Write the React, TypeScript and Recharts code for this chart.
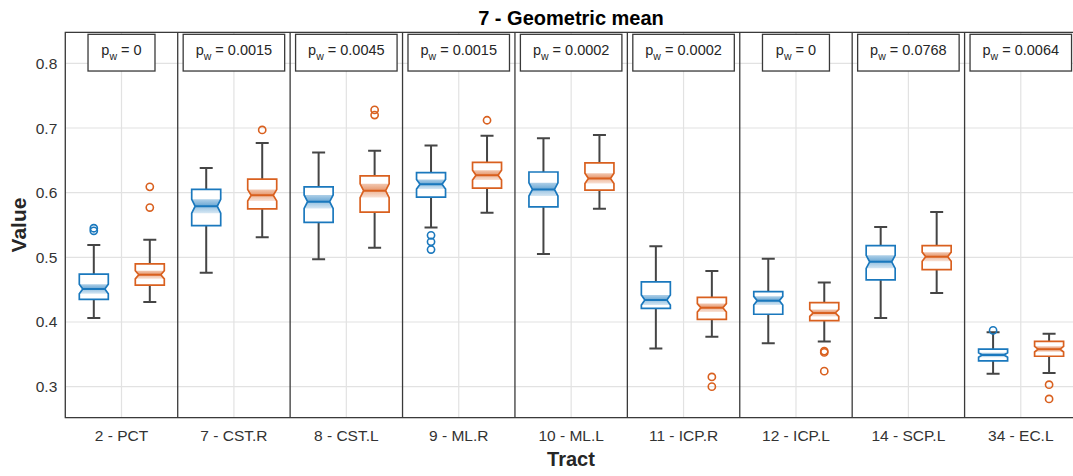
import React from "react";
import {
  ComposedChart,
  Bar,
  XAxis,
  YAxis,
  CartesianGrid,
  ReferenceLine,
  ReferenceArea,
  ReferenceDot,
} from "recharts";

const FONT = '"Liberation Sans", Arial, Helvetica, sans-serif';

const BLUE = "#1a78bd";
const ORANGE = "#d9601f";
const WHISKER = "#454545";
const FRAME = "#3a3a3a";

const tracts = [
  "2 - PCT",
  "7 - CST.R",
  "8 - CST.L",
  "9 - ML.R",
  "10 - ML.L",
  "11 - ICP.R",
  "12 - ICP.L",
  "14 - SCP.L",
  "34 - EC.L",
];

const pValues = ["0", "0.0015", "0.0045", "0.0015", "0.0002", "0.0002", "0", "0.0768", "0.0064"];

// [lower whisker, q1, median, q3, upper whisker]
const blueStats = [
  [0.406, 0.435, 0.451, 0.474, 0.519],
  [0.476, 0.549, 0.579, 0.605, 0.638],
  [0.497, 0.554, 0.586, 0.609, 0.662],
  [0.546, 0.593, 0.613, 0.631, 0.673],
  [0.505, 0.578, 0.605, 0.632, 0.684],
  [0.359, 0.421, 0.434, 0.462, 0.517],
  [0.367, 0.412, 0.433, 0.447, 0.498],
  [0.406, 0.465, 0.493, 0.518, 0.547],
  [0.32, 0.34, 0.349, 0.358, 0.384],
];

const orangeStats = [
  [0.431, 0.457, 0.473, 0.49, 0.527],
  [0.531, 0.575, 0.596, 0.621, 0.677],
  [0.515, 0.57, 0.603, 0.626, 0.665],
  [0.569, 0.607, 0.627, 0.647, 0.688],
  [0.575, 0.604, 0.622, 0.646, 0.689],
  [0.377, 0.404, 0.422, 0.438, 0.479],
  [0.37, 0.402, 0.414, 0.43, 0.461],
  [0.445, 0.481, 0.501, 0.518, 0.57],
  [0.321, 0.347, 0.358, 0.37, 0.382],
];

const blueOutliers = [[0.541, 0.545], [], [], [0.534, 0.524, 0.512], [], [], [], [], [0.387]];
const orangeOutliers = [
  [0.609, 0.577],
  [0.697],
  [0.728, 0.72],
  [0.712],
  [],
  [0.315, 0.3],
  [0.355, 0.353, 0.324],
  [],
  [0.303, 0.281],
];

const yTicks = [0.3, 0.4, 0.5, 0.6, 0.7, 0.8];
const Y_MIN = 0.252;
const Y_MAX = 0.848;

const rows = tracts.map((name, i) => ({
  name,
  pos: i + 0.5,
  blue: [blueStats[i][0], blueStats[i][4]],
  orange: [orangeStats[i][0], orangeStats[i][4]],
  blueStats: blueStats[i],
  orangeStats: orangeStats[i],
  blueOut: blueOutliers[i],
  orangeOut: orangeOutliers[i],
}));

// notched box drawn inside the bar's whisker-to-whisker rectangle
function NotchedBox(props: any) {
  const { x, y, width, height, stats, outliers, color, gradId } = props;
  const [lo, q1, med, q3, hi] = stats;
  const top = Math.min(y, y + height);
  const bot = Math.max(y, y + height);
  const py = (v: number) => top + ((hi - v) / (hi - lo)) * (bot - top);
  const L = x;
  const R = x + width;
  const cx = x + width / 2;
  const notch = 0.19 * (q3 - q1);
  const nHi = py(med + notch);
  const nLo = py(med - notch);
  const yMed = py(med);
  const inset = width * 0.12;
  const cap = 6.5;

  const outline = [
    [L, py(q3)],
    [R, py(q3)],
    [R, nHi],
    [R - inset, yMed],
    [R, nLo],
    [R, py(q1)],
    [L, py(q1)],
    [L, nLo],
    [L + inset, yMed],
    [L, nHi],
  ]
    .map((p) => p.join(","))
    .join(" ");
  const notchArea = [
    [L, nHi],
    [R, nHi],
    [R - inset, yMed],
    [R, nLo],
    [L, nLo],
    [L + inset, yMed],
  ]
    .map((p) => p.join(","))
    .join(" ");

  return (
    <g>
      <line x1={cx} x2={cx} y1={py(hi)} y2={py(q3)} stroke={WHISKER} strokeWidth={2} />
      <line x1={cx} x2={cx} y1={py(q1)} y2={py(lo)} stroke={WHISKER} strokeWidth={2} />
      <line x1={cx - cap} x2={cx + cap} y1={py(hi)} y2={py(hi)} stroke={WHISKER} strokeWidth={2} />
      <line x1={cx - cap} x2={cx + cap} y1={py(lo)} y2={py(lo)} stroke={WHISKER} strokeWidth={2} />
      <polygon points={outline} fill="#fff" stroke={color} strokeWidth={1.7} strokeLinejoin="miter" />
      <polygon points={notchArea} fill={`url(#${gradId})`} stroke="none" />
      <line x1={L + inset} x2={R - inset} y1={yMed} y2={yMed} stroke={color} strokeWidth={2} />
      {outliers.map((v: number, k: number) => (
        <circle key={k} cx={cx} cy={py(v)} r={3.6} fill="none" stroke={color} strokeWidth={1.6} />
      ))}
    </g>
  );
}

const digitWidth = (s: string) =>
  s.split("").reduce((w, ch) => w + (ch === "." ? 0.278 : 0.556), 0) * 13.8;

function PBox(props: any) {
  const { cx, cy, p } = props;
  const w = 59.3 + digitWidth(p);
  const h = 36.7;
  return (
    <g>
      <rect x={cx - w / 2} y={cy - h / 2} width={w} height={h} fill="#fff" stroke={FRAME} strokeWidth={1.3} />
      <text x={cx} y={cy + 2} textAnchor="middle" fontFamily={FONT} fontSize={14.5} fill="#262626">
        <tspan>p</tspan>
        <tspan dy={5} fontSize={10.5}>w</tspan>
        <tspan dy={-5}>{` = ${p}`}</tspan>
      </text>
    </g>
  );
}

export default function App() {
  return (
    <div
      style={{
        position: "fixed",
        left: 0,
        top: 0,
        width: 1073,
        height: 476,
        overflow: "hidden",
        background: "#fff",
        fontFamily: FONT,
      }}
    >
      <div
        style={{
          position: "absolute",
          left: 65,
          width: 1012,
          top: 8,
          lineHeight: "20px",
          fontSize: 20,
          fontWeight: "bold",
          textAlign: "center",
          color: "#000",
        }}
      >
        7 - Geometric mean
      </div>
      <div
        style={{
          position: "absolute",
          left: 18,
          top: 225,
          transform: "translate(-50%, -50%) rotate(-90deg)",
          fontSize: 21,
          fontWeight: "bold",
          lineHeight: "21px",
          color: "#262626",
          whiteSpace: "nowrap",
        }}
      >
        Value
      </div>
      <div
        style={{
          position: "absolute",
          left: 65,
          width: 1012,
          top: 449,
          lineHeight: "20px",
          fontSize: 20,
          fontWeight: "bold",
          textAlign: "center",
          color: "#262626",
        }}
      >
        Tract
      </div>
      <div style={{ position: "absolute", left: 0, top: 0 }}>
        <ComposedChart
          width={1080}
          height={476}
          data={rows}
          margin={{ top: 32.3, right: 3, bottom: 0, left: 0 }}
          barGap={27}
        >
          <defs>
            {[
              ["notchBlue", BLUE],
              ["notchOrange", ORANGE],
            ].map(([id, c]) => (
              <linearGradient key={id} id={id} x1="0" y1="0" x2="0" y2="1">
                <stop offset="0" stopColor={c} stopOpacity={0.35} />
                <stop offset="0.48" stopColor={c} stopOpacity={0.65} />
                <stop offset="0.52" stopColor={c} stopOpacity={0.45} />
                <stop offset="1" stopColor={c} stopOpacity={0.18} />
              </linearGradient>
            ))}
          </defs>
          <CartesianGrid stroke="#e2e2e2" strokeWidth={1.2} />
          <XAxis
            dataKey="name"
            height={58.3}
            axisLine={false}
            tickLine={false}
            tickMargin={6}
            interval={0}
            tick={{ fill: "#333", fontSize: 15.5, fontFamily: FONT }}
          />
          <XAxis xAxisId="sep" dataKey="pos" type="number" domain={[0, 9]} allowDataOverflow hide />
          <YAxis
            width={65.3}
            domain={[Y_MIN, Y_MAX]}
            ticks={yTicks}
            allowDataOverflow
            axisLine={false}
            tickLine={false}
            tick={{ fill: "#333", fontSize: 15.5, fontFamily: FONT }}
            tickFormatter={(v: number) => v.toFixed(1)}
          />
          {tracts.slice(1).map((t, i) => (
            <ReferenceLine key={t} xAxisId="sep" x={i + 1} stroke={FRAME} strokeWidth={1.3} />
          ))}
          <ReferenceArea
            xAxisId="sep"
            x1={0}
            x2={9}
            y1={Y_MIN}
            y2={Y_MAX}
            fill="none"
            stroke={FRAME}
            strokeWidth={1.3}
            ifOverflow="visible"
          />
          <Bar
            dataKey="blue"
            barSize={29}
            isAnimationActive={false}
            shape={(p: any) => (
              <NotchedBox {...p} stats={p.payload.blueStats} outliers={p.payload.blueOut} color={BLUE} gradId="notchBlue" />
            )}
          />
          <Bar
            dataKey="orange"
            barSize={29}
            isAnimationActive={false}
            shape={(p: any) => (
              <NotchedBox
                {...p}
                stats={p.payload.orangeStats}
                outliers={p.payload.orangeOut}
                color={ORANGE}
                gradId="notchOrange"
              />
            )}
          />
          {pValues.map((p, i) => (
            <ReferenceDot
              key={i}
              xAxisId="sep"
              x={i + 0.5}
              y={0.8165}
              shape={(props: any) => <PBox {...props} p={p} />}
            />
          ))}
        </ComposedChart>
      </div>
    </div>
  );
}
